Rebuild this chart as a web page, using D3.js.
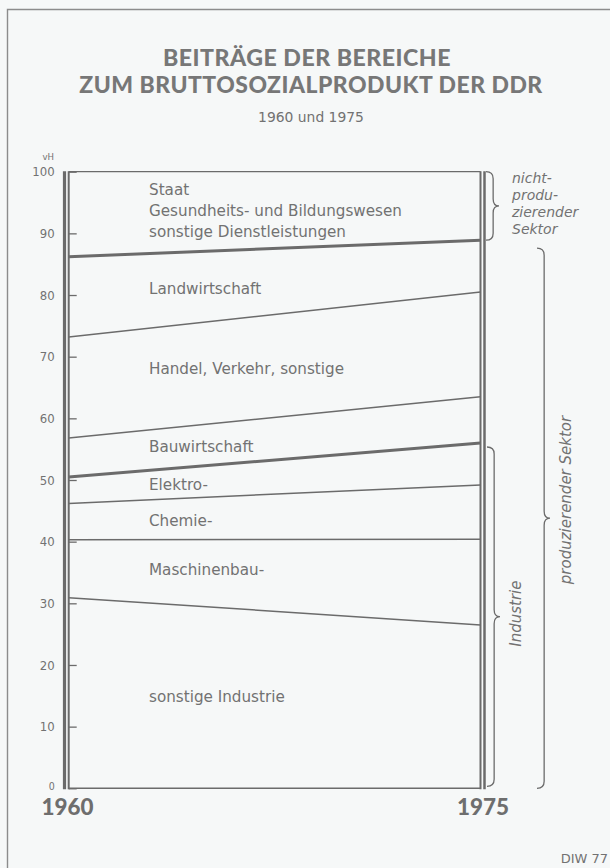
<!DOCTYPE html>
<html><head><meta charset="utf-8">
<script src="https://cdn.jsdelivr.net/npm/d3@7"></script>
<style>
html,body{margin:0;padding:0;background:#f6f8f8;}
svg{display:block;}
</style></head>
<body>
<script>
// ---- data ----
const years = [1960, 1975];
const sectors = ["sonstige Industrie", "Maschinenbau-", "Chemie-", "Elektro-", "Bauwirtschaft", "Handel, Verkehr, sonstige", "Landwirtschaft", "Staat"];
// cumulative upper boundary of each sector (vH)
const top1960 = [30.9, 40.3, 46.2, 50.5, 56.8, 73.2, 86.2, 100];
const top1975 = [26.5, 40.4, 49.2, 56.0, 63.5, 80.5, 88.9, 100];
const labelLines = ["sonstige Industrie", "Maschinenbau-", "Chemie-", "Elektro-", "Bauwirtschaft", "Handel, Verkehr, sonstige", "Landwirtschaft", "sonstige Dienstleistungen", "Gesundheits- und Bildungswesen", "Staat"];
const labelLevels = [14.0, 34.6, 42.6, 48.3, 54.6, 67.2, 80.2, 89.4, 92.8, 96.2];
const yTicks = [0, 10, 20, 30, 40, 50, 60, 70, 80, 90, 100];
const groups = [
  {label: ["nicht-", "produ-", "zierender", "Sektor"], lo: 88.9, hi: 100},
  {label: ["Industrie"], lo: 0, hi: 56.0},
  {label: ["produzierender Sektor"], lo: 0, hi: 88.9}
];
const title1 = "BEITRÄGE DER BEREICHE";
const title2 = "ZUM BRUTTOSOZIALPRODUKT DER DDR";
const subtitle = "1960 und 1975";
const unit = "vH";
const source = "DIW 77";

// ---- drawing ----
const W = 610, H = 868;
const ink = "#6b6b6b", txt = "#727272";
const svg = d3.select("body").append("svg").attr("width", W).attr("height", H);
svg.append("rect").attr("width", W).attr("height", H).attr("fill", "#f6f8f8");

// frame
svg.append("path").attr("d", "M7.5,900 L7.5,9.5 L640,9.5").attr("fill", "none")
  .attr("stroke", "#8c8c8c").attr("stroke-width", 1.4);

const x = d3.scaleLinear().domain(years).range([68.7, 480.5]);
const y = d3.scaleLinear().domain([0, 100]).range([788.3, 171.7]);

function fit(sel, width) {
  const l = sel.node().getComputedTextLength();
  const fs = parseFloat(sel.attr("font-size"));
  sel.attr("font-size", fs * width / l);
}

// titles
const tf = "Lato, 'DejaVu Sans', sans-serif";
const t1 = svg.append("text").attr("x", 307).attr("y", 66).attr("text-anchor", "middle")
  .attr("font-family", tf).attr("font-weight", 900).attr("font-size", 20).attr("fill", "#777")
  .attr("letter-spacing", 0.5).text(title1);
fit(t1, 290);
const t2 = svg.append("text").attr("x", 311).attr("y", 93).attr("text-anchor", "middle")
  .attr("font-family", tf).attr("font-weight", 900).attr("font-size", 20).attr("fill", "#777")
  .attr("letter-spacing", 0.5).text(title2);
fit(t2, 466);
const t3 = svg.append("text").attr("x", 311).attr("y", 122).attr("text-anchor", "middle")
  .attr("font-family", "'DejaVu Sans', sans-serif").attr("font-size", 13).attr("fill", txt).text(subtitle);
fit(t3, 106);

// y axis
const axis = d3.axisLeft(y).tickValues(yTicks).tickSize(-8).tickPadding(14).tickFormat(d3.format("d"));
const ag = svg.append("g").attr("transform", `translate(${x(1960)},0)`).call(axis);
ag.select(".domain").remove();
ag.selectAll(".tick line").attr("stroke", ink).attr("stroke-width", 1.3);
ag.selectAll(".tick text").attr("fill", txt).attr("font-size", d => d === 0 ? 10.5 : 13)
  .attr("dy", d => d === 0 ? "0.1em" : "0.32em")
  .attr("font-family", "'DejaVu Sans Condensed', 'Liberation Sans Narrow', sans-serif");
svg.append("text").attr("x", 54).attr("y", 160).attr("text-anchor", "end").attr("fill", txt)
  .attr("font-size", 9.5).attr("font-family", "'DejaVu Sans Condensed', sans-serif").text(unit);

// double vertical axes
[[x(1960) - 4.2, 3.2], [x(1960), 2], [x(1975), 2], [x(1975) + 4, 2.5]].forEach(([xx, w]) => {
  svg.append("line").attr("x1", xx).attr("x2", xx).attr("y1", y(100) - 0.5).attr("y2", y(0) + 1)
    .attr("stroke", ink).attr("stroke-width", w);
});

// boundaries
const line = d3.line().x(d => x(d[0])).y(d => y(d[1]));
const bounds = [{v: [0, 0], w: 1.5}].concat(top1960.map((v, i) => ({v: [v, top1975[i]], w: (i === 3 || i === 6) ? 3 : (i === 7 ? 1.3 : 1.5)})));
svg.append("g").selectAll("path").data(bounds).join("path")
  .attr("d", d => line(years.map((yr, j) => [yr, d.v[j]])))
  .attr("fill", "none").attr("stroke", ink).attr("stroke-width", d => d.w);

// sector labels
svg.append("g").selectAll("text").data(labelLines).join("text")
  .attr("x", 149).attr("y", (d, i) => y(labelLevels[i]))
  .attr("fill", txt).attr("font-size", 15.2).attr("font-family", "'DejaVu Sans', sans-serif")
  .text(d => d);

// braces
function brace(x0, ya, yb, w) {
  const xm = x0 + w * 0.55, ym = (ya + yb) / 2, r = 7;
  return `M${x0},${ya} Q${xm},${ya} ${xm},${ya + r} L${xm},${ym - r} Q${xm},${ym} ${x0 + w},${ym} Q${xm},${ym} ${xm},${ym + r} L${xm},${yb - r} Q${xm},${yb} ${x0},${yb}`;
}
const bx = [486, 487, 537];
const inset = [[0, 0], [4, 2], [8, 0]];
groups.forEach((g, i) => {
  svg.append("path").attr("d", brace(bx[i], y(g.hi) + inset[i][0], y(g.lo) - inset[i][1], 13))
    .attr("fill", "none").attr("stroke", ink).attr("stroke-width", 1.3);
});
// group labels
const gf = "'DejaVu Sans', sans-serif";
svg.append("g").selectAll("text").data(groups[0].label).join("text")
  .attr("x", 512).attr("y", (d, i) => 183 + i * 17).attr("fill", txt)
  .attr("font-size", 14).attr("font-style", "italic").attr("font-family", gf).text(d => d);
svg.append("text").attr("transform", `translate(521,${y((groups[1].lo + groups[1].hi) / 2) - 2}) rotate(-90)`)
  .attr("text-anchor", "middle").attr("fill", txt).attr("font-size", 15).attr("font-style", "italic")
  .attr("font-family", gf).text(groups[1].label[0]);
svg.append("text").attr("transform", `translate(571,500) rotate(-90)`)
  .attr("text-anchor", "middle").attr("fill", txt).attr("font-size", 15).attr("font-style", "italic")
  .attr("font-family", gf).text(groups[2].label[0]);

// year labels
years.forEach((yr, i) => {
  const t = svg.append("text").attr("x", i === 0 ? 67.5 : 483).attr("y", 815).attr("text-anchor", "middle")
    .attr("fill", "#6e6e6e").attr("font-weight", 900).attr("font-size", 20)
    .attr("font-family", tf).text(yr);
  fit(t, 52);
});

// source
svg.append("text").attr("x", 608).attr("y", 863).attr("text-anchor", "end").attr("fill", txt)
  .attr("font-size", 13).attr("font-family", "'DejaVu Sans', sans-serif").text(source);
</script>
</body></html>
